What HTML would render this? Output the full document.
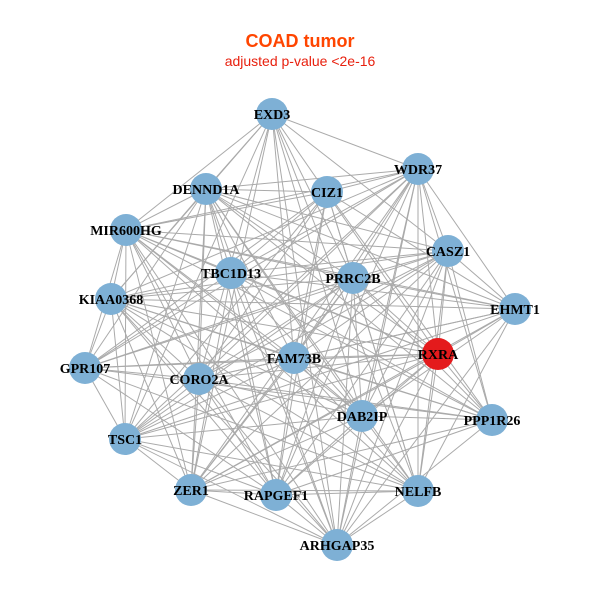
<!DOCTYPE html>
<html><head><meta charset="utf-8"><style>
html,body{margin:0;padding:0;background:#fff;width:600px;height:600px;overflow:hidden}
</style></head><body>
<svg id="s" width="600" height="600" xmlns="http://www.w3.org/2000/svg">
<rect width="600" height="600" fill="#fff"/>
<text x="300" y="47" text-anchor="middle" font-family="Liberation Sans, sans-serif" font-weight="bold" font-size="18" fill="#ff4500">COAD tumor</text>
<text x="300" y="66" text-anchor="middle" font-family="Liberation Sans, sans-serif" font-size="14" fill="#e8200e">adjusted p-value &lt;2e-16</text>
<g id="e" stroke="#aaaaaa" stroke-width="1"></g>
<g id="n"></g>
<g font-family="Liberation Serif, serif" font-weight="bold" font-size="14" fill="#000" text-anchor="middle">
<text x="272" y="119">EXD3</text>
<text x="418" y="174">WDR37</text>
<text x="206" y="194">DENND1A</text>
<text x="327" y="197">CIZ1</text>
<text x="126" y="235">MIR600HG</text>
<text x="448" y="256">CASZ1</text>
<text x="231" y="278">TBC1D13</text>
<text x="353" y="283">PRRC2B</text>
<text x="111" y="304">KIAA0368</text>
<text x="515" y="314">EHMT1</text>
<text x="294" y="363">FAM73B</text>
<text x="438" y="359">RXRA</text>
<text x="85" y="373">GPR107</text>
<text x="199" y="384">CORO2A</text>
<text x="362" y="421">DAB2IP</text>
<text x="492" y="425">PPP1R26</text>
<text x="125" y="444">TSC1</text>
<text x="191" y="495">ZER1</text>
<text x="276" y="500">RAPGEF1</text>
<text x="418" y="496">NELFB</text>
<text x="337" y="550">ARHGAP35</text>
</g>
</svg>
<script>
var P=[[272,114],[418,169],[206,189],[327,192],[126,230],[448,251],[231,273],[353,278],[111,299],[515,309],[294,358],[438,354],[85,368],[199,379],[362,416],[492,420],[125,439],[191,490],[276,495],[418,491],[337,545]];
var ns="http://www.w3.org/2000/svg",e=document.getElementById('e'),n=document.getElementById('n');
for(var i=0;i<P.length;i++)for(var j=i+1;j<P.length;j++){if((i*7+j*3)%9==0)continue;var l=document.createElementNS(ns,'line');l.setAttribute('x1',P[i][0]);l.setAttribute('y1',P[i][1]);l.setAttribute('x2',P[j][0]);l.setAttribute('y2',P[j][1]);e.appendChild(l);}
for(var i=0;i<P.length;i++){var c=document.createElementNS(ns,'circle');c.setAttribute('cx',P[i][0]);c.setAttribute('cy',P[i][1]);c.setAttribute('r',16);c.setAttribute('fill',i==11?'#e41a1c':'#7eb0d5');n.appendChild(c);}
</script>
</body></html>
